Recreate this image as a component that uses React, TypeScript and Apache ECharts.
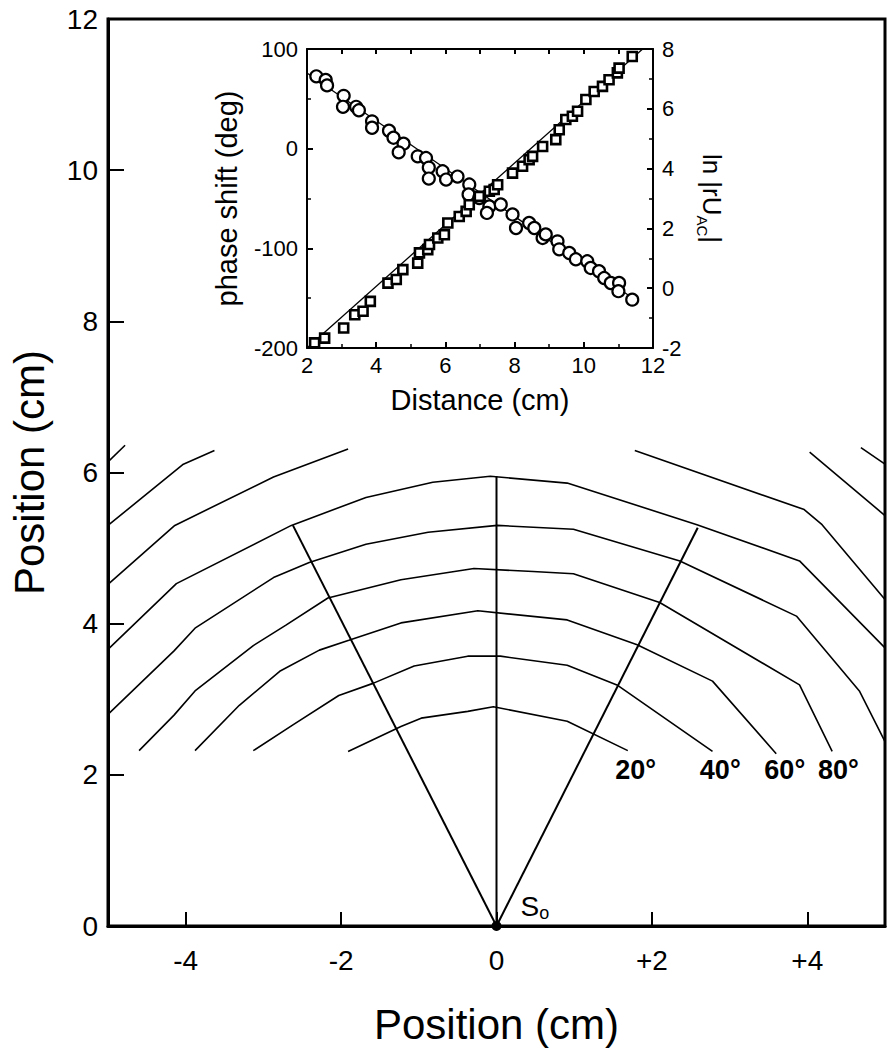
import React, { useEffect, useRef } from "react";
import * as echarts from "echarts";

const FONT = '"Liberation Sans", Arial, Helvetica, sans-serif';

// ---------- main panel: isophase contours (x cm, y cm) ----------
const contour20 = [[-1.91, 2.31], [-1.23, 2.64], [-0.97, 2.75], [-0.37, 2.84], [-0.04, 2.9], [0.91, 2.71], [1.69, 2.32]];
const contour40 = [[-3.13, 2.32], [-2.62, 2.66], [-2.03, 3.05], [-1.59, 3.21], [-1.06, 3.44], [-0.37, 3.57], [0.05, 3.57], [0.91, 3.45], [1.55, 3.19], [2.78, 2.31]];
const contour60 = [[-3.88, 2.32], [-3.31, 2.92], [-2.79, 3.37], [-2.28, 3.65], [-1.9, 3.78], [-1.23, 4.01], [-0.24, 4.17], [0.91, 4.05], [1.81, 3.72], [2.78, 3.24], [3.6, 2.28]];
const contour80 = [[-4.6, 2.32], [-4.15, 2.79], [-3.88, 3.11], [-3.13, 3.71], [-2.71, 3.98], [-2.17, 4.34], [-1.23, 4.58], [-0.29, 4.73], [0.47, 4.69], [0.99, 4.66], [2.1, 4.28], [3.9, 3.19], [4.32, 2.31]];
const contour100 = [[-5.0, 2.8], [-4.15, 3.64], [-3.88, 3.94], [-2.87, 4.61], [-2.41, 4.81], [-1.68, 5.05], [-0.88, 5.21], [0.01, 5.3], [0.99, 5.25], [2.36, 4.83], [3.86, 4.1], [4.67, 3.11], [5.0, 2.44]];
const contour120 = [[-5.0, 3.66], [-4.12, 4.53], [-2.64, 5.3], [-1.68, 5.67], [-0.82, 5.87], [-0.08, 5.95], [0.91, 5.86], [2.58, 5.31], [3.9, 4.83], [5.0, 3.68]];
const fragLeft1 = [[-5.0, 4.52], [-4.14, 5.3], [-2.87, 5.94], [-1.91, 6.31]];
const fragLeft2 = [[-5.0, 5.3], [-4.03, 6.11], [-3.63, 6.29]];
const fragLeft3 = [[-5.0, 6.14], [-4.78, 6.36]];
const fragRight1 = [[1.78, 6.29], [3.96, 5.51], [4.19, 5.31], [5.0, 4.32]];
const fragRight2 = [[4.03, 6.27], [5.0, 5.43]];
const fragRight3 = [[4.69, 6.33], [5.0, 6.11]];
const rayLeft = [[0, 0], [-2.62, 5.3]];
const rayCenter = [[0, 0], [0, 5.95]];
const rayRight = [[0, 0], [2.59, 5.27]];
const sourcePoint = [[0, 0]];
const contourLabels = ["20°", "40°", "60°", "80°"];
const contourLabelAnchors = [[1.79, 2.06], [2.88, 2.06], [3.71, 2.06], [4.4, 2.06]];

// ---------- inset: phase shift (deg) and ln|rU_AC| vs distance (cm) ----------
const phaseShift = [
  [2.27, 72.6], [2.54, 69], [2.58, 63.5], [3.06, 53], [3.04, 42], [3.42, 42], [3.5, 38.5], [3.88, 27.4],
  [3.88, 21], [4.37, 18], [4.5, 11], [4.79, 5], [4.65, -3.7], [5.2, -7.7], [5.44, -9.4], [5.52, -19],
  [5.52, -30], [5.92, -22.7], [6.02, -31], [6.35, -28], [6.69, -36], [6.67, -46], [6.98, -49.5], [7.27, -58],
  [7.2, -64.5], [7.6, -56], [7.94, -66], [8.04, -79.6], [8.42, -74.6], [8.57, -79.6], [8.81, -89.6], [8.9, -86],
  [9.24, -93], [9.29, -101], [9.58, -104.7], [9.77, -111], [10.1, -113], [10.2, -119.7], [10.44, -123],
  [10.59, -129.8], [10.78, -134.8], [11.02, -134.8], [11.0, -143], [11.4, -151.5],
];
const lnAmplitude = [
  [2.22, -1.83], [2.51, -1.67], [3.06, -1.33], [3.38, -0.89], [3.62, -0.77], [3.83, -0.44], [4.34, 0.17],
  [4.58, 0.29], [4.77, 0.62], [5.2, 0.84], [5.25, 1.18], [5.49, 1.29], [5.54, 1.46], [5.78, 1.68], [5.97, 1.79],
  [6.07, 2.18], [6.4, 2.4], [6.6, 2.57], [6.69, 2.79], [6.98, 3.07], [7.27, 3.24], [7.41, 3.3], [7.51, 3.46],
  [7.94, 3.85], [8.23, 4.08], [8.42, 4.3], [8.52, 4.41], [8.81, 4.74], [9.19, 4.97], [9.29, 5.3], [9.48, 5.64],
  [9.67, 5.75], [9.82, 5.92], [10.06, 6.31], [10.3, 6.58], [10.54, 6.75], [10.73, 6.97], [10.97, 7.2],
  [11.02, 7.36], [11.4, 7.75],
];
const phaseFit = [[2.0, 76], [11.5, -152]];
const lnFit = [[2.0, -2.0], [11.7, 8.0]];

const BLACK = "#000";

function lineSeries(data: number[][], width = 1.6) {
  return {
    type: "line",
    xAxisIndex: 0,
    yAxisIndex: 0,
    data,
    symbol: "none",
    silent: true,
    lineStyle: { color: BLACK, width },
    z: 3,
  };
}

function buildOption() {
  const contours = [contour20, contour40, contour60, contour80, contour100, contour120,
    fragLeft1, fragLeft2, fragLeft3, fragRight1, fragRight2, fragRight3];
  const rays = [rayLeft, rayCenter, rayRight];

  return {
    animation: false,
    backgroundColor: "#fff",
    textStyle: { fontFamily: FONT, color: BLACK },
    grid: [
      { left: 107, right: 4, top: 19, bottom: 123, show: true, borderColor: BLACK, borderWidth: 3, backgroundColor: "transparent" },
      { left: 307, right: 236, top: 49, bottom: 702 },
    ],
    xAxis: [
      {
        type: "value", gridIndex: 0, min: -5, max: 5, splitNumber: 5,
        axisLine: { show: true, onZero: false, lineStyle: { color: BLACK, width: 3 } },
        axisTick: { show: true, inside: true, length: 14, lineStyle: { color: BLACK, width: 2 } },
        axisLabel: {
          color: BLACK, fontSize: 28, fontFamily: FONT, margin: 20, showMinLabel: false, showMaxLabel: false,
          formatter: (v: number) => (v > 0 ? "+" + v : String(v)),
        },
        splitLine: { show: false },
        name: "Position (cm)", nameLocation: "middle", nameGap: 77,
        nameTextStyle: { fontSize: 42, color: BLACK, fontFamily: FONT },
      },
      {
        type: "value", gridIndex: 1, min: 2, max: 12, interval: 2,
        axisLine: { show: true, onZero: false, lineStyle: { color: BLACK, width: 2 } },
        axisTick: { show: true, inside: true, length: 6, lineStyle: { color: BLACK, width: 2 } },
        minorTick: { show: true, splitNumber: 2, length: 4, lineStyle: { color: BLACK, width: 1.5 } },
        axisLabel: { color: BLACK, fontSize: 22, fontFamily: FONT, margin: 6 },
        splitLine: { show: false },
        name: "Distance (cm)", nameLocation: "middle", nameGap: 37,
        nameTextStyle: { fontSize: 29, color: BLACK, fontFamily: FONT },
      },
      {
        type: "value", gridIndex: 1, position: "top", min: 2, max: 12, interval: 1,
        axisLine: { show: true, onZero: false, lineStyle: { color: BLACK, width: 2 } },
        axisTick: { show: true, inside: true, length: 5, lineStyle: { color: BLACK, width: 2 } },
        axisLabel: { show: false },
        splitLine: { show: false },
      },
    ],
    yAxis: [
      {
        type: "value", gridIndex: 0, min: 0, max: 12, interval: 2,
        axisLine: { show: true, onZero: false, lineStyle: { color: BLACK, width: 3 } },
        axisTick: { show: true, inside: true, length: 16, lineStyle: { color: BLACK, width: 2 } },
        axisLabel: { color: BLACK, fontSize: 28, fontFamily: FONT, margin: 10 },
        splitLine: { show: false },
        name: "Position (cm)", nameLocation: "middle", nameGap: 58,
        nameTextStyle: { fontSize: 42, color: BLACK, fontFamily: FONT },
      },
      {
        type: "value", gridIndex: 1, min: -200, max: 100, interval: 100,
        axisLine: { show: true, onZero: false, lineStyle: { color: BLACK, width: 2 } },
        axisTick: { show: true, inside: true, length: 6, lineStyle: { color: BLACK, width: 2 } },
        minorTick: { show: true, splitNumber: 2, length: 4, lineStyle: { color: BLACK, width: 1.5 } },
        axisLabel: { color: BLACK, fontSize: 22, fontFamily: FONT, margin: 9 },
        splitLine: { show: false },
        name: "phase shift (deg)", nameLocation: "middle", nameGap: 66,
        nameTextStyle: { fontSize: 29, color: BLACK, fontFamily: FONT },
      },
      {
        type: "value", gridIndex: 1, position: "right", min: -2, max: 8, interval: 2,
        axisLine: { show: true, onZero: false, lineStyle: { color: BLACK, width: 2 } },
        axisTick: { show: true, inside: true, length: 6, lineStyle: { color: BLACK, width: 2 } },
        minorTick: { show: true, splitNumber: 2, length: 4, lineStyle: { color: BLACK, width: 1.5 } },
        axisLabel: { color: BLACK, fontSize: 22, fontFamily: FONT, margin: 9 },
        splitLine: { show: false },
        name: "{a|ln |rU}{b|AC}{a||}", nameLocation: "middle", nameGap: 42, nameRotate: -90,
        nameTextStyle: {
          color: BLACK, fontFamily: FONT,
          rich: {
            a: { fontSize: 26, fontFamily: FONT, color: BLACK, lineHeight: 34, verticalAlign: "middle" },
            b: { fontSize: 15, fontFamily: FONT, color: BLACK, lineHeight: 16, verticalAlign: "bottom" },
          },
        },
      },
    ],
    series: [
      ...contours.map((c) => lineSeries(c, 1.6)),
      ...rays.map((r) => lineSeries(r, 2)),
      {
        type: "scatter", xAxisIndex: 0, yAxisIndex: 0, data: sourcePoint, symbol: "circle", symbolSize: 10,
        clip: false, silent: true, z: 5,
        itemStyle: { color: BLACK, opacity: 1 },
        label: {
          show: true, position: "right", distance: 4, offset: [15, -20],
          formatter: "{s|S}{o|o}",
          rich: {
            s: { fontSize: 28, fontFamily: FONT, color: BLACK, lineHeight: 32, verticalAlign: "middle" },
            o: { fontSize: 18, fontFamily: FONT, color: BLACK, lineHeight: 14, verticalAlign: "bottom" },
          },
        },
      },
      {
        type: "scatter", xAxisIndex: 0, yAxisIndex: 0, symbolSize: 0, silent: true, clip: false, z: 5,
        itemStyle: { opacity: 1 },
        data: contourLabels.map((name, i) => ({ name, value: contourLabelAnchors[i] })),
        label: {
          show: true, position: "inside", formatter: "{b}",
          fontSize: 27, fontWeight: "bold", fontFamily: FONT, color: BLACK,
        },
      },
      {
        type: "line", xAxisIndex: 1, yAxisIndex: 1, data: phaseFit, symbol: "none", silent: true,
        lineStyle: { color: BLACK, width: 1.3 }, z: 2,
      },
      {
        type: "line", xAxisIndex: 1, yAxisIndex: 2, data: lnFit, symbol: "none", silent: true,
        lineStyle: { color: BLACK, width: 1.3 }, z: 2,
      },
      {
        type: "scatter", xAxisIndex: 1, yAxisIndex: 1, data: phaseShift, symbol: "circle", symbolSize: 12,
        silent: true, z: 4,
        itemStyle: { color: "#fff", borderColor: BLACK, borderWidth: 2.2, opacity: 1 },
      },
      {
        type: "scatter", xAxisIndex: 1, yAxisIndex: 2, data: lnAmplitude, symbol: "rect", symbolSize: 9,
        silent: true, z: 4,
        itemStyle: { color: "#fff", borderColor: BLACK, borderWidth: 2.6, opacity: 1 },
      },
    ],
  };
}

export default function App() {
  const ref = useRef<HTMLDivElement>(null);
  useEffect(() => {
    if (!ref.current) return;
    const chart = echarts.init(ref.current, undefined, { renderer: "svg" });
    chart.setOption(buildOption() as any);
    return () => chart.dispose();
  }, []);
  return (
    <div
      ref={ref}
      style={{ position: "absolute", left: 0, top: 0, width: 889, height: 1050, background: "#fff" }}
    />
  );
}
